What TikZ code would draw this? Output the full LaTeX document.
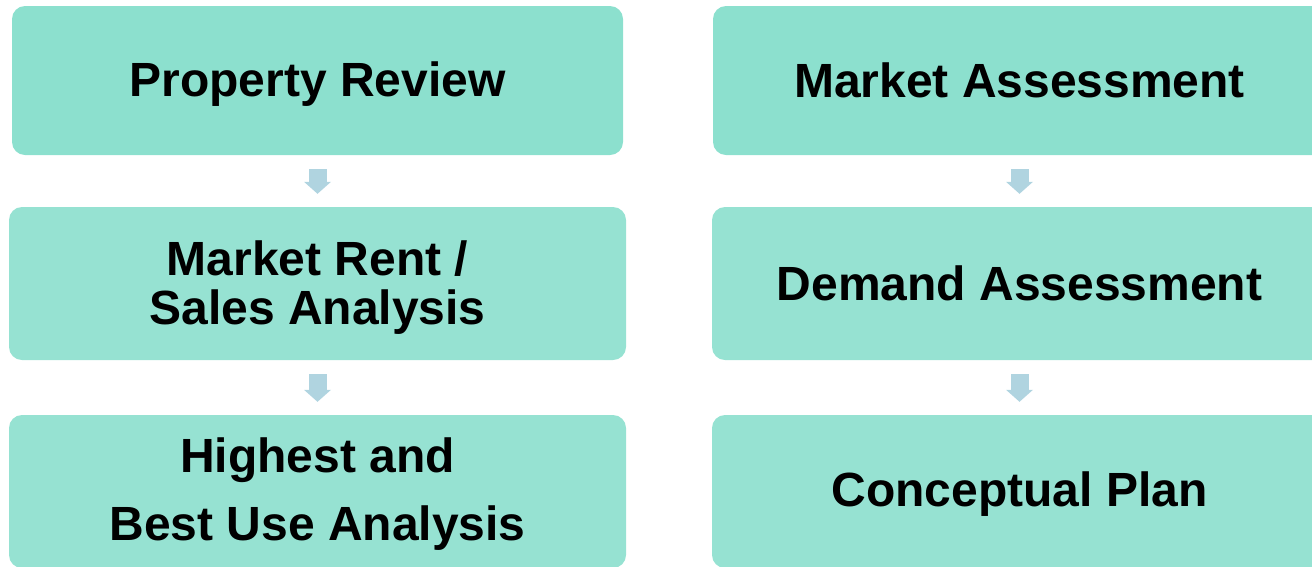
\documentclass[tikz,border=0pt]{standalone}
\usepackage{fontspec}
\setmainfont{Liberation Sans}
\usetikzlibrary{arrows.meta}
\definecolor{boxtop}{HTML}{8CE0CE}
\definecolor{boxlow}{HTML}{96E2D2}
\definecolor{arrowblue}{HTML}{B0D4E0}
% invisible strut that lowers the text inside a box
\newcommand\droptext[1]{\rule{0pt}{#1}}
\begin{document}
\begin{tikzpicture}[x=1pt,y=-1pt,
  stagebox/.style={fill=boxlow,draw=none,rounded corners=13pt,inner sep=0pt,
    align=center,font=\bfseries\fontsize{48}{49}\selectfont,text=black},
  topbox/.style={stagebox,fill=boxtop},
  flowarrow/.style={draw=arrowblue,line width=18pt,
    -{Triangle[width=27pt 0,length=12pt 0,line width=0pt,fill=arrowblue]},
    shorten <=14pt,shorten >=13pt}]
\useasboundingbox (0,0) rectangle (1312,566);
\clip (0,0) rectangle (1312,566);
% left column
\node[topbox,minimum width=611pt,minimum height=149pt] (L1) at (317.5,80.5)
  {\droptext{42pt}Property Review};
\node[stagebox,minimum width=617pt,minimum height=153pt] (L2) at (317.5,283.5)
  {\droptext{43pt}Market Rent /\\Sales Analysis};
\node[stagebox,minimum width=617pt,minimum height=153pt,
  font=\bfseries\fontsize{48}{68}\selectfont] (L3) at (317.5,491.5)
  {\droptext{40pt}Highest and\\Best Use Analysis};
% right column
\node[topbox,minimum width=613pt,minimum height=149pt] (R1) at (1019.5,80.5) {Market Assessment};
\node[stagebox,minimum width=615pt,minimum height=153pt] (R2) at (1019.5,283.5) {Demand Assessment};
\node[stagebox,minimum width=615pt,minimum height=153pt] (R3) at (1019.5,491.5)
  {\droptext{40pt}Conceptual Plan};
% flow arrows
\draw[flowarrow] (L1.south) -- (L2.north);
\draw[flowarrow] (L2.south) -- (L3.north);
\draw[flowarrow] (R1.south) -- (R2.north);
\draw[flowarrow] (R2.south) -- (R3.north);
\end{tikzpicture}
\end{document}
